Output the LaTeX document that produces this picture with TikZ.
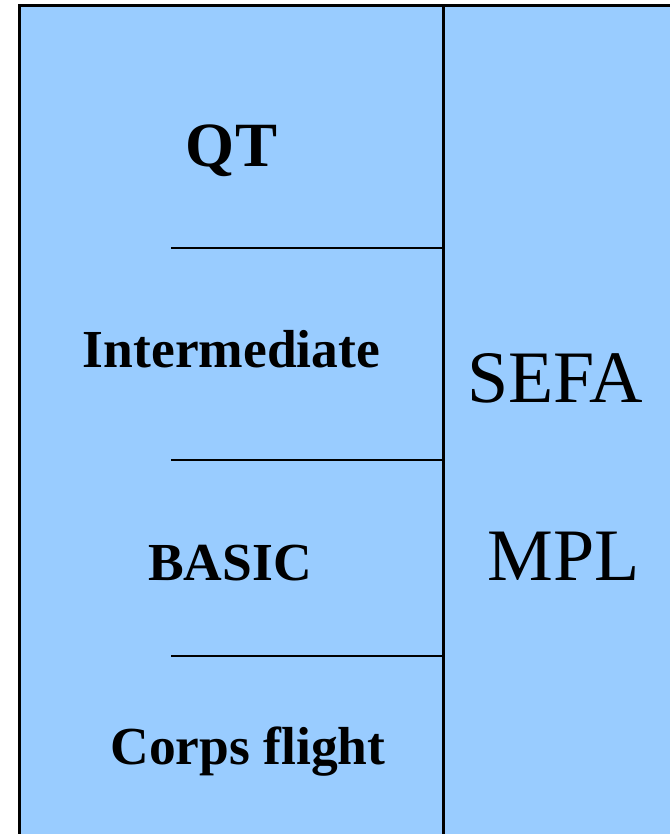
\documentclass[tikz,border=0pt]{standalone}
\usepackage{fontspec}
\setmainfont{Liberation Serif}
\definecolor{panel}{HTML}{99CCFF}
\begin{document}
\begin{tikzpicture}[x=1pt,y=-1pt,
  rule/.style={line width=2.8pt,black},
  boldlbl/.style={anchor=base,inner sep=0pt,font=\bfseries\fontsize{53.5}{60}\selectfont},
  biglbl/.style={anchor=base,inner sep=0pt,font=\fontsize{74}{80}\selectfont}]
\useasboundingbox (0,0) rectangle (669,834);
\fill[panel] (19.5,5.5) rectangle (680,845);
\draw[line width=3pt] (19.5,845) -- (19.5,5.5) -- (680,5.5);
\coordinate (vt) at (443.3,5.5);
\coordinate (vb) at (443.3,845);
\draw[rule] (vt) -- (vb);
\coordinate (h1a) at (171,248); \coordinate (h1b) at (443.3,248);
\coordinate (h2a) at (171,460); \coordinate (h2b) at (443.3,460);
\coordinate (h3a) at (171,656); \coordinate (h3b) at (443.3,656);
\draw[rule] (h1a) -- (h1b);
\draw[rule] (h2a) -- (h2b);
\draw[rule] (h3a) -- (h3b);
\node[boldlbl,font=\bfseries\fontsize{63}{70}\selectfont] (qt) at (231.5,167) {QT};
\node[boldlbl] (inter) at (231.5,367) {Intermediate};
\node[boldlbl] (basic) at (230,580) {BASIC};
\node[boldlbl] (corps) at (248,764) {Corps flight};
\node[biglbl] (sefa) at (555,402) {SEFA};
\node[biglbl] (mpl) at (563.5,580) {MPL};
\end{tikzpicture}
\end{document}
